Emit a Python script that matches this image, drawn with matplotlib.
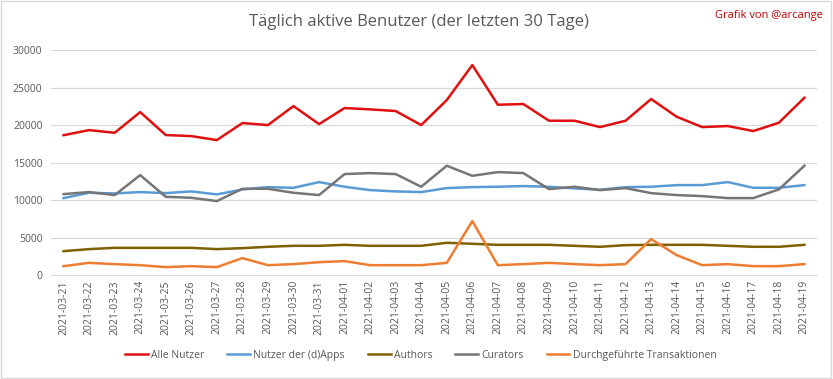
import matplotlib.pyplot as plt
from matplotlib.patches import Rectangle

plt.rcParams['font.family'] = ['Open Sans', 'DejaVu Sans']

# Daten
dates = ['2021-03-21', '2021-03-22', '2021-03-23', '2021-03-24', '2021-03-25',
         '2021-03-26', '2021-03-27', '2021-03-28', '2021-03-29', '2021-03-30',
         '2021-03-31', '2021-04-01', '2021-04-02', '2021-04-03', '2021-04-04',
         '2021-04-05', '2021-04-06', '2021-04-07', '2021-04-08', '2021-04-09',
         '2021-04-10', '2021-04-11', '2021-04-12', '2021-04-13', '2021-04-14',
         '2021-04-15', '2021-04-16', '2021-04-17', '2021-04-18', '2021-04-19']
alle_nutzer = [18650, 19330, 18970, 21730, 18670, 18530, 18000, 20270, 20000, 22530,
               20130, 22270, 22090, 21870, 20000, 23330, 28000, 22710, 22800, 20580,
               20580, 19730, 20580, 23470, 21110, 19730, 19870, 19200, 20310, 23640]
dapps = [10270, 10980, 10890, 11070, 10930, 11160, 10760, 11420, 11730, 11640,
         12400, 11780, 11330, 11160, 11070, 11600, 11730, 11780, 11870, 11780,
         11560, 11380, 11730, 11780, 12000, 12000, 12400, 11640, 11640, 12000]
authors = [3200, 3470, 3640, 3640, 3640, 3640, 3470, 3600, 3780, 3910,
           3910, 4040, 3910, 3910, 3910, 4310, 4180, 4040, 4040, 4040,
           3910, 3780, 4000, 4040, 4040, 4040, 3910, 3780, 3780, 4040]
curators = [10800, 11070, 10670, 13330, 10440, 10310, 9870, 11510, 11510, 10980,
            10670, 13470, 13600, 13470, 11780, 14580, 13240, 13730, 13600, 11470,
            11780, 11330, 11600, 10930, 10670, 10530, 10270, 10270, 11420, 14580]
transaktionen = [1200, 1640, 1470, 1330, 1070, 1200, 1070, 2270, 1330, 1470,
                 1730, 1870, 1330, 1330, 1330, 1640, 7200, 1330, 1470, 1640,
                 1470, 1330, 1470, 4800, 2670, 1330, 1470, 1200, 1200, 1470]

series = [('Alle Nutzer', alle_nutzer, '#e01010'),
          ('Nutzer der (d)Apps', dapps, '#5b9bd5'),
          ('Authors', authors, '#7f6000'),
          ('Curators', curators, '#767676'),
          ('Durchgeführte Transaktionen', transaktionen, '#ed7d31')]

fig = plt.figure(figsize=(8.33, 3.79), dpi=100)
ax = fig.add_axes([0.061, 0.274, 0.92, 0.594])

x = list(range(len(dates)))
for name, vals, col in series:
    ax.plot(x, vals, color=col, lw=1.8, label=name, solid_joinstyle='round')

ax.set_xlim(-0.5, len(dates) - 0.5)
ax.set_ylim(0, 30000)
ax.set_yticks(range(0, 30001, 5000))
ax.set_xticks(x)
ax.set_xticklabels(dates, rotation=90)
ax.grid(axis='y', color='#d9d9d9', lw=0.9)
ax.set_axisbelow(True)
for s in ['top', 'right', 'left']:
    ax.spines[s].set_visible(False)
ax.spines['bottom'].set_color('#d9d9d9')
ax.tick_params(axis='both', length=0, colors='#595959', labelsize=7.5)
ax.tick_params(axis='y', pad=6)

fig.text(0.503, 0.942, 'Täglich aktive Benutzer (der letzten 30 Tage)',
         ha='center', va='center', fontsize=12, color='#595959')
fig.text(0.988, 0.96, 'Grafik von @arcange', ha='right', va='center',
         fontsize=8, color='#c00000')

fig.legend(loc='center', bbox_to_anchor=(0.505, 0.063), ncol=5, frameon=False,
           fontsize=7.5, labelcolor='#595959', handlelength=2.2,
           handletextpad=0.3, columnspacing=2.2)

fig.patches.append(Rectangle((0.001, 0.002), 0.997, 0.995, transform=fig.transFigure,
                             fill=False, edgecolor='#d9d9d9', lw=1))

fig.savefig('out.png', dpi=100)
